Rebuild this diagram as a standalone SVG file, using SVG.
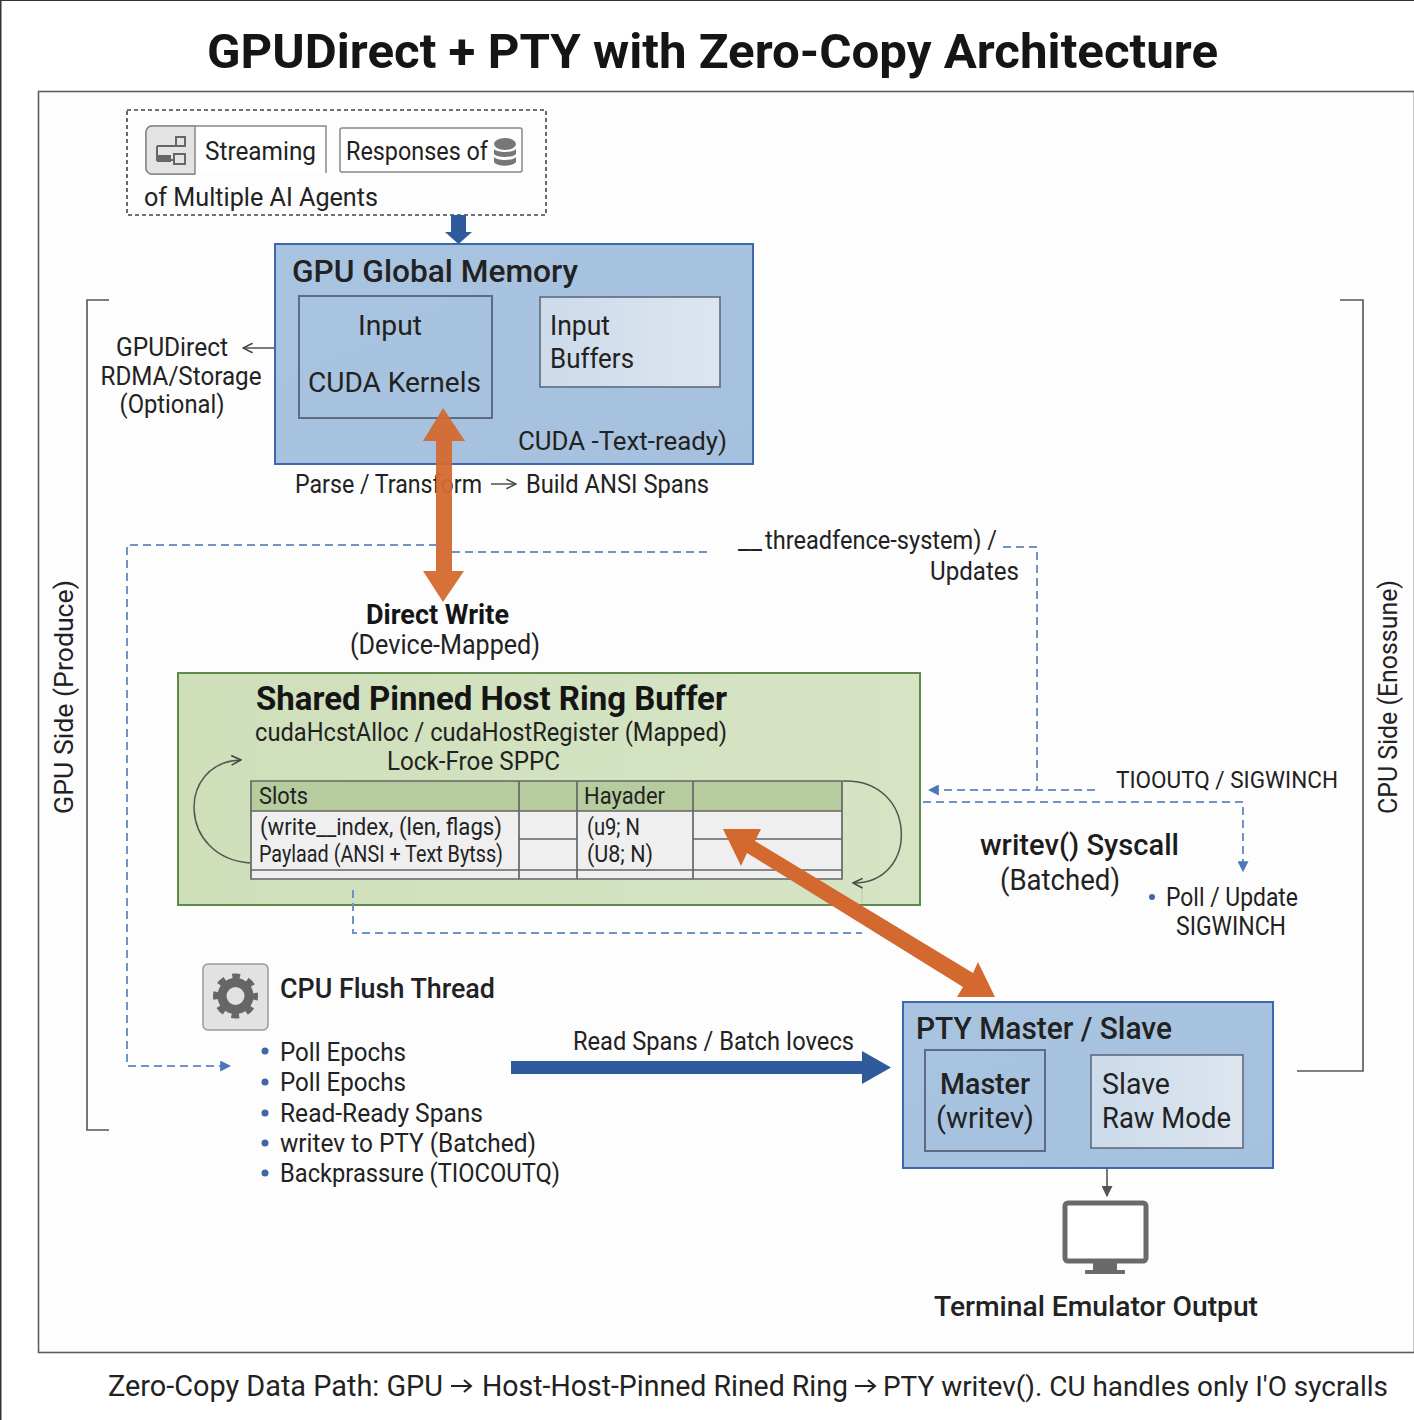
<svg xmlns="http://www.w3.org/2000/svg" width="1414" height="1420" viewBox="0 0 1414 1420">
<defs>
<linearGradient id="blue" x1="0" y1="0" x2="1" y2="1"><stop offset="0" stop-color="#a9c4e0"/><stop offset="1" stop-color="#a6c1de"/></linearGradient>
<linearGradient id="light" x1="0" y1="0" x2="1" y2="0"><stop offset="0" stop-color="#ccdaea"/><stop offset="1" stop-color="#dde6ef"/></linearGradient>
<linearGradient id="green" x1="0" y1="0" x2="1" y2="0"><stop offset="0" stop-color="#cfdfba"/><stop offset="1" stop-color="#d6e4c4"/></linearGradient>
<marker id="dash" viewBox="0 0 10 10" refX="8" refY="5" markerWidth="11" markerHeight="11" markerUnits="userSpaceOnUse" orient="auto"><path d="M0 0L10 5L0 10Z" fill="#4a78b8"/></marker>
<marker id="thin" viewBox="0 0 10 10" refX="9" refY="5" markerWidth="12" markerHeight="12" markerUnits="userSpaceOnUse" orient="auto"><path d="M1 1L9 5L1 9" fill="none" stroke="#444" stroke-width="1.3"/></marker>
<marker id="grey" viewBox="0 0 10 10" refX="9" refY="5" markerWidth="11" markerHeight="11" markerUnits="userSpaceOnUse" orient="auto"><path d="M0 0L10 5L0 10Z" fill="#555"/></marker>
</defs>
<style>
text{font-family:Roboto,"Liberation Sans",sans-serif;fill:#222}
.b{font-weight:700;fill:#151515}
.m{font-weight:500;fill:#1c1c1c}
.s{font-size:25px}
.box{stroke-width:2}
.dashline{fill:none;stroke:#6f93c6;stroke-width:2;stroke-dasharray:8 5}
.bracket{fill:none;stroke:#555;stroke-width:1.6}
.cell{fill:none;stroke:#666;stroke-width:1.7}
.bullet{fill:#3e66a8}
.inner{fill:none;stroke:#5d6c80;stroke-width:2}
</style>
<rect width="1414" height="1420" fill="#fff"/>
<rect x="0" y="0" width="1414" height="1" fill="#333"/>
<rect x="0" y="0" width="1.5" height="1420" fill="#333"/>
<rect id="frame" x="38.500" y="91.500" width="1376" height="1261" fill="#fdfdfe" stroke="#5a6068" stroke-width="1.600"/>
<text class="b" x="207" y="68" font-size="49" textLength="1011" lengthAdjust="spacingAndGlyphs">GPUDirect + PTY with Zero-Copy Architecture</text>

<g id="agents">
<rect x="127" y="110" width="419" height="105" fill="none" stroke="#444" stroke-width="1.600" stroke-dasharray="4 3"/>
<path d="M326 173V126H152a6 6 0 0 0-6 6V168a6 6 0 0 0 6 6H195" fill="#fff" stroke="#888" stroke-width="1.500"/>
<path d="M152 126H195V174H152a6 6 0 0 1-6-6V132a6 6 0 0 1 6-6Z" fill="#e3e3e3" stroke="#888" stroke-width="1.500"/>
<g fill="none" stroke="#666" stroke-width="2"><rect x="176" y="137" width="9" height="9"/><rect x="174" y="154" width="11" height="10"/><path d="M157 146H176M157 146V160H174"/></g>
<rect x="157" y="155" width="14" height="7" fill="#666"/>
<text class="s" x="205" y="160" textLength="111" lengthAdjust="spacingAndGlyphs">Streaming</text>
<rect x="340" y="128" width="182" height="44" rx="2" fill="#fff" stroke="#888" stroke-width="1.500"/>
<text class="s" x="346" y="160" textLength="142" lengthAdjust="spacingAndGlyphs">Responses of</text>
<g fill="#777"><ellipse cx="505" cy="144" rx="11" ry="6"/><path d="M494 149c3 4 19 4 22 0v5c-3 4-19 4-22 0Z"/><path d="M494 157c3 4 19 4 22 0v5c-3 5-19 5-22 0Z"/></g>
<text class="s" x="144" y="206" textLength="234" lengthAdjust="spacingAndGlyphs">of Multiple AI Agents</text>
<path d="M451 215H466V232H472L458.500 244L445 232H451Z" fill="#2f5a9c"/>
</g>

<g id="gpu-memory">
<rect class="box" x="275" y="244" width="478" height="220" fill="url(#blue)" stroke="#3e67ad"/>
<text x="292" y="282" font-size="31" textLength="286" lengthAdjust="spacingAndGlyphs" style="font-weight:500">GPU Global Memory</text>
<rect class="inner" x="299" y="296" width="193" height="122"/>
<text x="358" y="335" font-size="28" textLength="64" lengthAdjust="spacingAndGlyphs">Input</text>
<text x="308" y="392" font-size="28" textLength="173" lengthAdjust="spacingAndGlyphs">CUDA Kernels</text>
<rect x="540" y="297" width="180" height="90" fill="url(#light)" stroke="#5d6c80" stroke-width="1.600"/>
<text x="550" y="335" font-size="28" textLength="60" lengthAdjust="spacingAndGlyphs">Input</text>
<text x="550" y="368" font-size="28" textLength="84" lengthAdjust="spacingAndGlyphs">Buffers</text>
<text class="s" x="518" y="450" textLength="209" lengthAdjust="spacingAndGlyphs">CUDA -Text-ready)</text>
</g>

<g id="gpu-labels">
<text class="s" x="172" y="356" text-anchor="middle" textLength="112" lengthAdjust="spacingAndGlyphs">GPUDirect</text>
<text class="s" x="181" y="385" text-anchor="middle" textLength="161" lengthAdjust="spacingAndGlyphs">RDMA/Storage</text>
<text class="s" x="172" y="413" text-anchor="middle" textLength="105" lengthAdjust="spacingAndGlyphs">(Optional)</text>
<text class="s" x="295" y="493" textLength="187" lengthAdjust="spacingAndGlyphs">Parse / Transform</text>
<text class="s" x="526" y="493" textLength="183" lengthAdjust="spacingAndGlyphs">Build ANSI Spans</text>
<text class="s" x="738" y="549" textLength="24" lengthAdjust="spacingAndGlyphs">__</text>
<text class="s" x="765" y="549" textLength="232" lengthAdjust="spacingAndGlyphs">threadfence-system) /</text>
<text class="s" x="930" y="580" textLength="89" lengthAdjust="spacingAndGlyphs">Updates</text>
<text class="b" x="366" y="624" font-size="27" textLength="143" lengthAdjust="spacingAndGlyphs">Direct Write</text>
<text x="350" y="654" font-size="27" textLength="190" lengthAdjust="spacingAndGlyphs">(Device-Mapped)</text>
<text transform="translate(73 814) rotate(-90)" class="s" textLength="234" lengthAdjust="spacingAndGlyphs">GPU Side (Produce)</text>
<text transform="translate(1397 814) rotate(-90)" class="s" textLength="234" lengthAdjust="spacingAndGlyphs">CPU Side (Enossune)</text>
</g>

<g id="ring-buffer">
<rect class="box" x="178" y="673" width="742" height="232" fill="url(#green)" stroke="#5f8a4b"/>
<text class="b" x="256" y="710" font-size="34" textLength="471" lengthAdjust="spacingAndGlyphs">Shared Pinned Host Ring Buffer</text>
<text class="s" x="255" y="741" textLength="472" lengthAdjust="spacingAndGlyphs">cudaHcstAlloc / cudaHostRegister (Mapped)</text>
<text class="s" x="387" y="770" textLength="173" lengthAdjust="spacingAndGlyphs">Lock-Froe SPPC</text>
<rect x="251" y="781" width="591" height="98" fill="#efefef"/>
<rect x="251" y="781" width="591" height="30" fill="#b6cc9f"/>
<path class="cell" d="M251 781H842V879H251ZM251 811H842M251 870H842M519 781V879M577 781V879M693 781V879M519 839H577M693 839H842"/>
<text x="259" y="804" font-size="24" textLength="49" lengthAdjust="spacingAndGlyphs">Slots</text>
<text x="584" y="804" font-size="24" textLength="81" lengthAdjust="spacingAndGlyphs">Hayader</text>
<text x="260" y="835" font-size="24" textLength="242" lengthAdjust="spacingAndGlyphs">(write__index, (len, flags)</text>
<text x="259" y="862" font-size="23" textLength="244" lengthAdjust="spacingAndGlyphs">Paylaad (ANSI + Text Bytss)</text>
<text x="587" y="835" font-size="24" textLength="53" lengthAdjust="spacingAndGlyphs">(u9; N</text>
<text x="587" y="862" font-size="24" textLength="66" lengthAdjust="spacingAndGlyphs">(U8; N)</text>
</g>

<g id="flush-thread">
<rect x="203" y="964" width="65" height="66" rx="5" fill="#e2e2e2" stroke="#999" stroke-width="1.500"/>
<circle cx="235.500" cy="996" r="13.500" fill="none" stroke="#666" stroke-width="9"/>
<circle cx="235.500" cy="996" r="19" fill="none" stroke="#666" stroke-width="7" stroke-dasharray="7.500 7.420" stroke-dashoffset="3.700"/>
<text x="280" y="998" font-size="27" textLength="215" lengthAdjust="spacingAndGlyphs" style="font-weight:500">CPU Flush Thread</text>
<g class="bullet"><circle cx="265" cy="1051" r="3.500"/><circle cx="265" cy="1082" r="3.500"/><circle cx="265" cy="1113" r="3.500"/><circle cx="265" cy="1143" r="3.500"/><circle cx="265" cy="1173" r="3.500"/></g>
<text class="s" x="280" y="1061" textLength="126" lengthAdjust="spacingAndGlyphs">Poll Epochs</text>
<text class="s" x="280" y="1091" textLength="126" lengthAdjust="spacingAndGlyphs">Poll Epochs</text>
<text class="s" x="280" y="1122" textLength="203" lengthAdjust="spacingAndGlyphs">Read-Ready Spans</text>
<text class="s" x="280" y="1152" textLength="256" lengthAdjust="spacingAndGlyphs">writev to PTY (Batched)</text>
<text class="s" x="280" y="1182" textLength="280" lengthAdjust="spacingAndGlyphs">Backprassure (TIOCOUTQ)</text>
</g>

<g id="pty">
<rect class="box" x="903" y="1002" width="370" height="166" fill="url(#blue)" stroke="#3e67ad"/>
<text x="916" y="1039" font-size="31" textLength="256" lengthAdjust="spacingAndGlyphs" style="font-weight:500">PTY Master / Slave</text>
<rect class="inner" x="925" y="1050" width="120" height="101"/>
<text x="985" y="1094" font-size="30" text-anchor="middle" textLength="90" lengthAdjust="spacingAndGlyphs" style="font-weight:500">Master</text>
<text x="985" y="1128" font-size="30" text-anchor="middle" textLength="98" lengthAdjust="spacingAndGlyphs">(writev)</text>
<rect x="1091" y="1055" width="152" height="93" fill="url(#light)" stroke="#5d6c80" stroke-width="1.600"/>
<text x="1102" y="1094" font-size="30" textLength="68" lengthAdjust="spacingAndGlyphs">Slave</text>
<text x="1102" y="1128" font-size="30" textLength="129" lengthAdjust="spacingAndGlyphs">Raw Mode</text>
</g>

<g id="terminal">
<rect x="1065" y="1203" width="81" height="58" rx="3" fill="#fff" stroke="#6a6a6a" stroke-width="5"/>
<path d="M1093 1263H1117V1270H1093Z" fill="#6a6a6a"/>
<rect x="1085" y="1270" width="40" height="4" rx="1" fill="#6a6a6a"/>
<text x="934" y="1316" font-size="28" textLength="324" lengthAdjust="spacingAndGlyphs" style="font-weight:500">Terminal Emulator Output</text>
</g>

<g id="syscall-labels">
<text x="1116" y="788" font-size="24" textLength="222" lengthAdjust="spacingAndGlyphs">TIOOUTQ / SIGWINCH</text>
<text class="m" x="980" y="855" font-size="30" textLength="199" lengthAdjust="spacingAndGlyphs">writev() Syscall</text>
<text x="1000" y="890" font-size="30" textLength="120" lengthAdjust="spacingAndGlyphs">(Batched)</text>
<circle class="bullet" cx="1152" cy="897" r="3"/>
<text class="s" x="1166" y="906" textLength="132" lengthAdjust="spacingAndGlyphs">Poll / Update</text>
<text class="s" x="1176" y="935" textLength="110" lengthAdjust="spacingAndGlyphs">SIGWINCH</text>
<text class="s" x="573" y="1050" textLength="281" lengthAdjust="spacingAndGlyphs">Read Spans / Batch Iovecs</text>
</g>

<g id="connectors">
<path class="bracket" d="M109 300H87V1130H109"/>
<path class="bracket" d="M1340 300H1363V1071H1297"/>
<path d="M274 348H243" fill="none" stroke="#444" stroke-width="1.400" marker-end="url(#thin)"/>
<path d="M491 484H516" fill="none" stroke="#444" stroke-width="1.400" marker-end="url(#thin)"/>
<path class="dashline" d="M437 545H127V1066H229" marker-end="url(#dash)"/>
<path class="dashline" d="M452 552H710"/>
<path class="dashline" d="M1003 547H1037V790"/>
<path class="dashline" d="M1095 790H930" marker-end="url(#dash)"/>
<path class="dashline" d="M923 802H1243V870" marker-end="url(#dash)"/>
<path class="dashline" d="M353 890V933H862"/>
<path d="M862 888V903" fill="none" stroke="#b9cfa3" stroke-width="1.200"/>
<path d="M250 863C178 858 176 762 241 760" fill="none" stroke="#555" stroke-width="1.500" marker-end="url(#thin)"/>
<path d="M843 781C918 778 920 884 853 883" fill="none" stroke="#555" stroke-width="1.500" marker-end="url(#thin)"/>
<path d="M1107 1168V1196" fill="none" stroke="#555" stroke-width="1.600" marker-end="url(#grey)"/>
</g>

<g id="thick-arrows">
<path d="M511 1061H862V1051L891 1067.500L862 1084V1074H511Z" fill="#2f5a9c"/>
<path d="M443 408L465 441H452V571H464L443 602L423 571H436V441H423Z" fill="#d4692f" opacity=".95"/>
<path d="M723 829L761 829L755 841L973 973L978 962L995 997L957 997L963 987L747 853L741 866Z" fill="#d4692f"/>
</g>
<g id="footer">
<text x="108" y="1396" font-size="29" textLength="335" lengthAdjust="spacingAndGlyphs">Zero-Copy Data Path: GPU</text>
<path d="M451 1386H471M464 1380L471 1386L464 1392" fill="none" stroke="#222" stroke-width="2"/>
<text x="482" y="1396" font-size="29" textLength="366" lengthAdjust="spacingAndGlyphs">Host-Host-Pinned Rined Ring</text>
<path d="M855 1386H875M868 1380L875 1386L868 1392" fill="none" stroke="#222" stroke-width="2"/>
<text x="883" y="1396" font-size="28" textLength="505" lengthAdjust="spacingAndGlyphs">PTY writev(). CU handles only I'O sycralls</text>
</g>
</svg>
